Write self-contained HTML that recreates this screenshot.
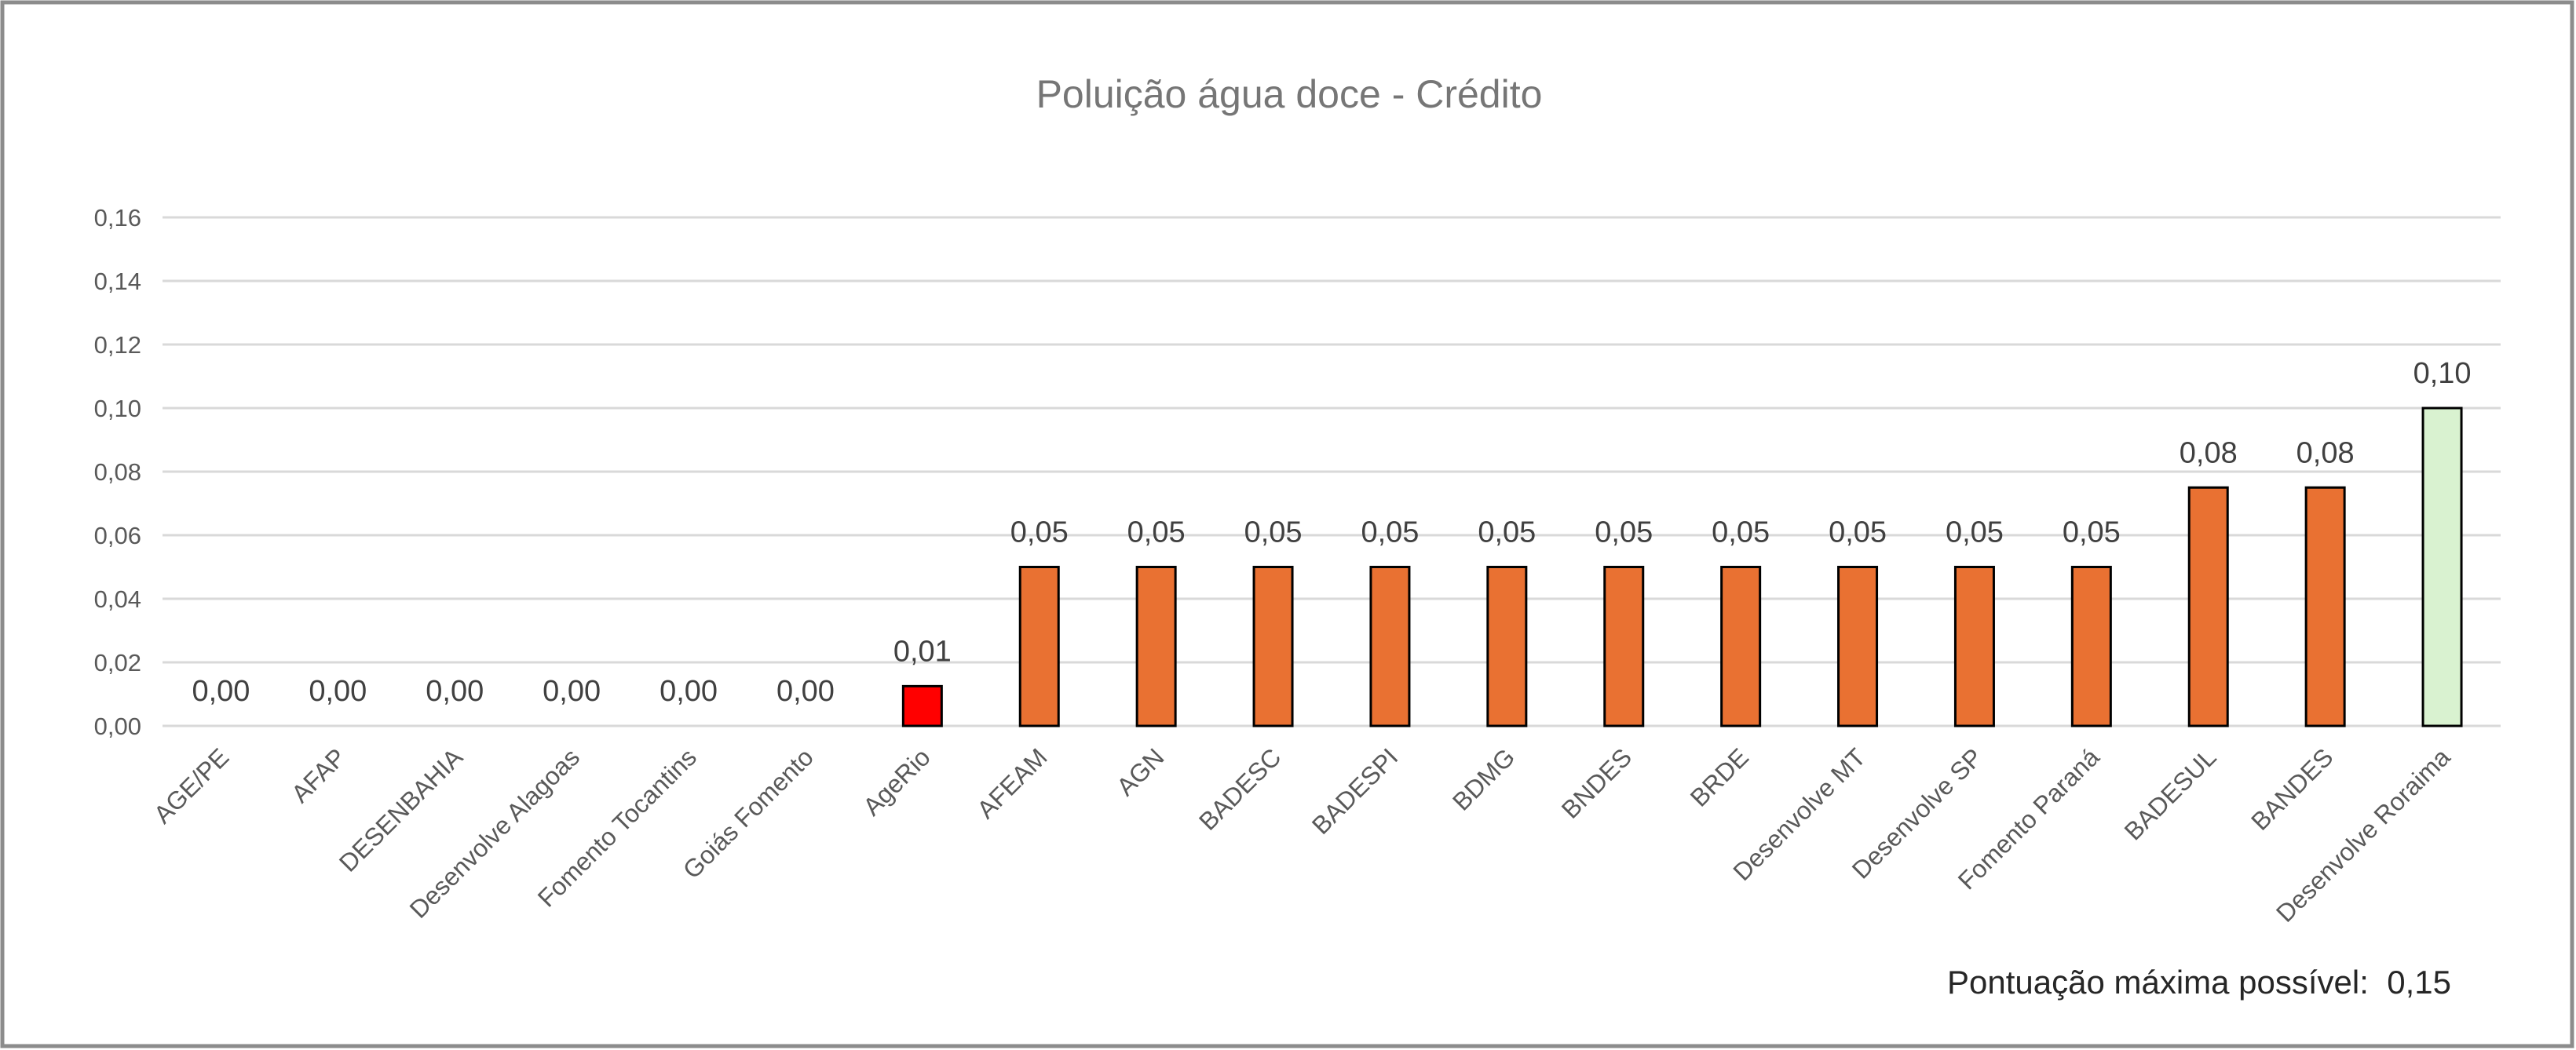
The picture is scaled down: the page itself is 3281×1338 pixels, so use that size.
<!DOCTYPE html>
<html><head><meta charset="utf-8"><style>
html,body{margin:0;padding:0;background:#fff}
svg{display:block;font-family:"Liberation Sans",sans-serif}
</style></head><body>
<svg id="chart" width="3281" height="1338" viewBox="0 0 3281 1338">
<rect x="3" y="3" width="3273" height="1330" fill="#fff" stroke="#8c8c8c" stroke-width="5"/>
<text x="1642" y="137" text-anchor="middle" font-size="50" fill="#767676">Poluição água doce - Crédito</text>
<g id="grid"></g><g id="bars"></g><g id="labels"></g>
<text x="3122" y="1266" text-anchor="end" font-size="42" fill="#262626" style="white-space:pre" xml:space="preserve">Pontuação máxima possível:  0,15</text>
</svg>
<script>
const categories=["AGE/PE","AFAP","DESENBAHIA","Desenvolve Alagoas","Fomento Tocantins","Goiás Fomento","AgeRio","AFEAM","AGN","BADESC","BADESPI","BDMG","BNDES","BRDE","Desenvolve MT","Desenvolve SP","Fomento Paraná","BADESUL","BANDES","Desenvolve Roraima"];
const values=[0,0,0,0,0,0,0.0125,0.05,0.05,0.05,0.05,0.05,0.05,0.05,0.05,0.05,0.05,0.075,0.075,0.1];
const valueLabels=["0,00","0,00","0,00","0,00","0,00","0,00","0,01","0,05","0,05","0,05","0,05","0,05","0,05","0,05","0,05","0,05","0,05","0,08","0,08","0,10"];
const colors=["#E97132","#E97132","#E97132","#E97132","#E97132","#E97132","#FF0000","#E97132","#E97132","#E97132","#E97132","#E97132","#E97132","#E97132","#E97132","#E97132","#E97132","#E97132","#E97132","#D9F2D0"];
const yTicks=[0,0.02,0.04,0.06,0.08,0.10,0.12,0.14,0.16];
const yTickLabels=["0,00","0,02","0,04","0,06","0,08","0,10","0,12","0,14","0,16"];
const NS="http://www.w3.org/2000/svg";
const L=207,R=3185,T=277,B=925,yMax=0.16;
const y=v=>B-(v/yMax)*(B-T);
const band=(R-L)/categories.length;
const x=i=>L+band*(i+0.5);
const bw=49;
function mk(tag,attrs,parent,text){const e=document.createElementNS(NS,tag);for(const k in attrs)e.setAttribute(k,attrs[k]);if(text!==undefined)e.textContent=text;parent.appendChild(e);return e;}
const grid=document.getElementById('grid'),bars=document.getElementById('bars'),labels=document.getElementById('labels');
yTicks.forEach((t,i)=>{
  const g=mk('line',{x1:L,x2:R,y1:y(t),y2:y(t),stroke:'#d9d9d9','stroke-width':3},grid);
  
  
  const tl=mk('text',{x:180,y:y(t)+11,'text-anchor':'end','font-size':31,fill:'#595959'},grid,yTickLabels[i]);
  
  
});
values.forEach((v,i)=>{
  if(v>0){
    const r=mk('rect',{x:x(i)-bw/2,y:y(v),width:bw,height:B-y(v),fill:colors[i],stroke:'#000','stroke-width':3},bars);
    
    
  }
  const vl=mk('text',{x:x(i),y:y(v)-32,'text-anchor':'middle','font-size':38,fill:'#404040'},labels,valueLabels[i]);
  
  
  const cl=mk('text',{'text-anchor':'end','font-size':32,fill:'#595959',transform:`translate(${x(i)+12},${B+42}) rotate(-45)`},labels,categories[i]);
  
  
});
</script>
</body></html>
